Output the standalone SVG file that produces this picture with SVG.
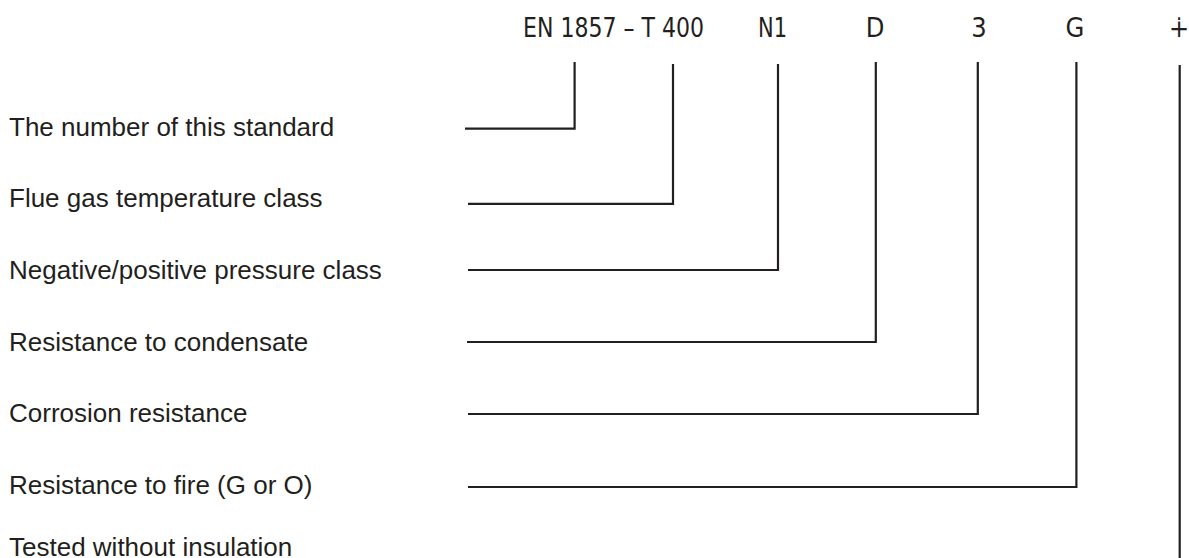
<svg xmlns="http://www.w3.org/2000/svg" width="1189" height="558" viewBox="0 0 1189 558">
<style>
.lbl{font-family:"Liberation Sans",Arial,sans-serif;font-size:26px;fill:#231f20}
.code{font-family:"DejaVu Sans Condensed","DejaVu Sans",sans-serif;font-stretch:condensed;font-size:27px;fill:#231f20}
.ln{fill:none;stroke:#231f20;stroke-width:2.2}
</style>
<rect width="1189" height="558" fill="#ffffff"/>
<g id="code">
<text class="code" x="523" y="37" textLength="181" lengthAdjust="spacingAndGlyphs">EN 1857 – T 400</text>
<text class="code" x="758" y="37" textLength="29" lengthAdjust="spacingAndGlyphs">N1</text>
<text class="code" x="875" y="37" text-anchor="middle">D</text>
<text class="code" x="979" y="37" text-anchor="middle">3</text>
<text class="code" x="1075" y="37" text-anchor="middle">G</text>
<text class="code" x="1179" y="37" text-anchor="middle">∔</text>
</g>
<g id="label-standard"><text class="lbl" x="9" y="136">The number of this standard</text></g>
<g id="label-temperature"><text class="lbl" x="9" y="207">Flue gas temperature class</text></g>
<g id="label-pressure"><text class="lbl" x="9" y="279">Negative/positive pressure class</text></g>
<g id="label-condensate"><text class="lbl" x="9" y="351">Resistance to condensate</text></g>
<g id="label-corrosion"><text class="lbl" x="9" y="422">Corrosion resistance</text></g>
<g id="label-fire"><text class="lbl" x="9" y="494">Resistance to fire (G or O)</text></g>
<g id="label-insulation"><text class="lbl" x="9" y="556">Tested without insulation</text></g>
<g id="connectors">
<polyline class="ln" points="465,128.7 574.6,128.7 574.6,62"/>
<polyline class="ln" points="468,203.8 673,203.8 673,64"/>
<polyline class="ln" points="468,270 778,270 778,64"/>
<polyline class="ln" points="467,342 875.8,342 875.8,62"/>
<polyline class="ln" points="468,414 977.8,414 977.8,62"/>
<polyline class="ln" points="468,487 1076.4,487 1076.4,62"/>
<line class="ln" x1="1179.7" y1="65" x2="1179.7" y2="558"/>
</g>
</svg>
